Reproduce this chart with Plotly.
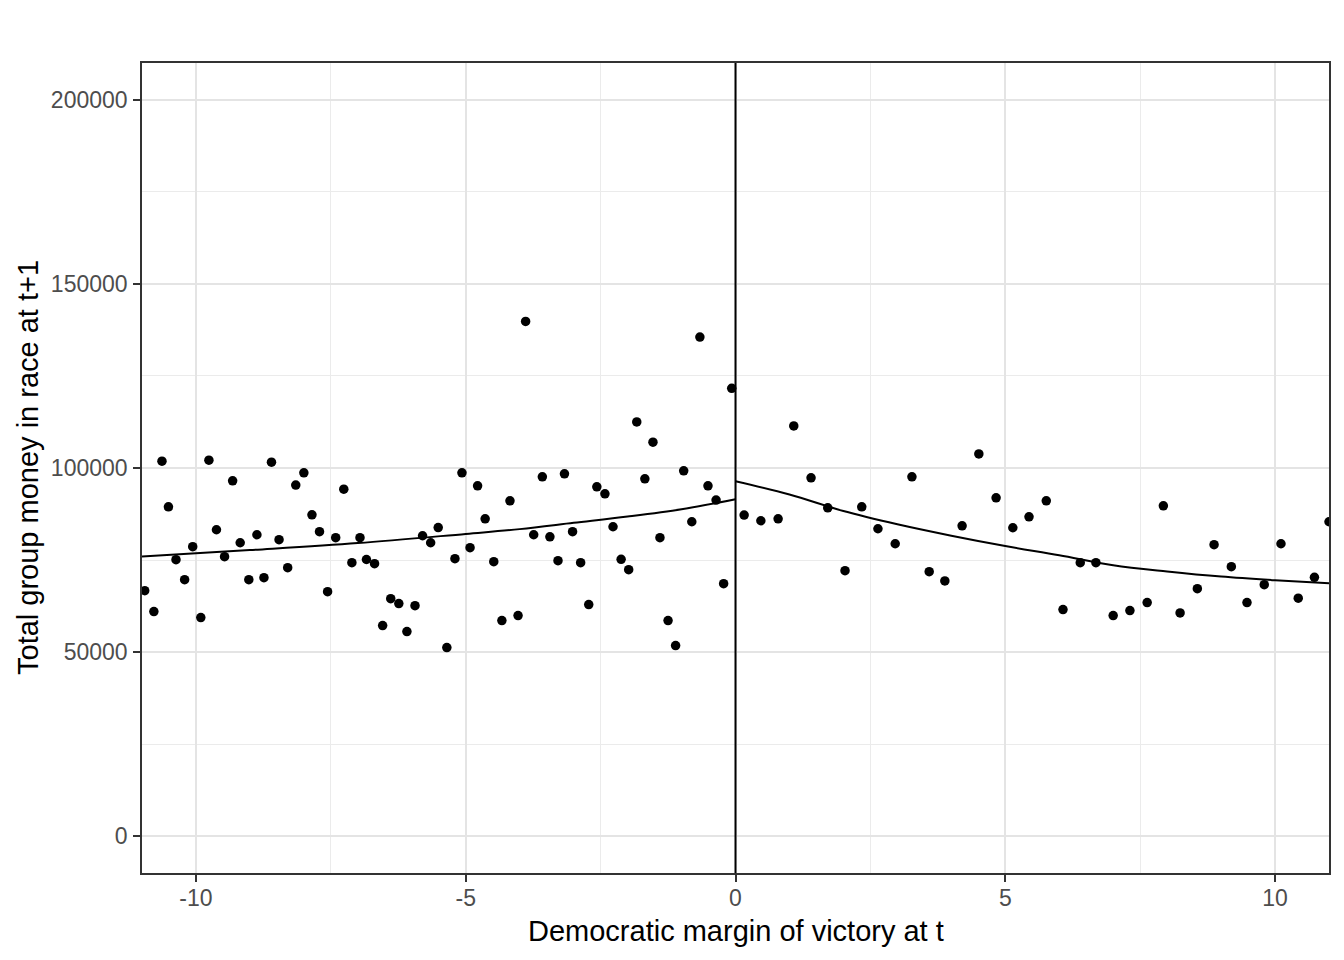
import plotly.graph_objects as go

# Scatter data: left of cutoff
left_x = [-10.95, -10.78, -10.63, -10.51, -10.37, -10.21, -10.06, -9.91, -9.76, -9.62,
          -9.47, -9.32, -9.18, -9.02, -8.87, -8.74, -8.60, -8.46, -8.30, -8.15,
          -8.00, -7.85, -7.71, -7.56, -7.41, -7.26, -7.11, -6.96, -6.84, -6.69,
          -6.54, -6.39, -6.24, -6.09, -5.94, -5.80, -5.65, -5.51, -5.35, -5.20,
          -5.07, -4.92, -4.78, -4.64, -4.48, -4.33, -4.18, -4.03, -3.89, -3.74,
          -3.58, -3.44, -3.29, -3.17, -3.02, -2.87, -2.72, -2.57, -2.42, -2.27,
          -2.12, -1.98, -1.83, -1.68, -1.53, -1.40, -1.25, -1.11, -0.96, -0.81,
          -0.66, -0.51, -0.36, -0.22, -0.07]
left_y = [66690, 61000, 101850, 89460, 75090, 69670, 78620, 59370, 102120, 83230,
          75910, 96510, 79700, 69670, 81870, 70210, 101580, 80520, 72930, 95350,
          98680, 87290, 82690, 66420, 81060, 94260, 74280, 81060, 75150, 74010,
          57200, 64500, 63170, 55580, 62620, 81600, 79700, 83820, 51240, 75370,
          98680, 78350, 95160, 86210, 74550, 58560, 91090, 59910, 139800, 81870,
          97600, 81300, 74820, 98410, 82690, 74280, 62900, 94890, 92990, 84040,
          75200, 72380, 112510, 97050, 107000, 81060, 58560, 51780, 99220, 85400,
          135550, 95160, 91280, 68590, 121640]

# Scatter data: right of cutoff
right_x = [0.16, 0.47, 0.79, 1.08, 1.40, 1.71, 2.03, 2.34, 2.64, 2.96,
           3.27, 3.59, 3.88, 4.20, 4.51, 4.83, 5.14, 5.44, 5.76, 6.07,
           6.39, 6.68, 7.00, 7.31, 7.63, 7.93, 8.24, 8.56, 8.87, 9.19,
           9.48, 9.80, 10.11, 10.43, 10.73, 11.00]
right_y = [87210, 85670, 86210, 111420, 97320, 89190, 72110, 89460, 83500, 79430,
           97600, 71840, 69320, 84310, 103830, 91900, 83770, 86750, 91090, 61540,
           74280, 74280, 59910, 61270, 63440, 89730, 60650, 67230, 79160, 73200,
           63440, 68320, 79430, 64630, 70320, 85400]

# Fitted curves
fit_left_x = [-11, -9, -7, -5, -4, -3, -2, -1, 0]
fit_left_y = [75960, 77700, 79600, 82100, 83400, 85100, 86800, 88800, 91500]
fit_right_x = [0, 1, 2, 3, 4, 5, 6, 7, 8, 9, 10, 11]
fit_right_y = [96400, 92800, 88300, 84700, 81600, 78800, 76300, 73600, 71900, 70500, 69500, 68700]

x_ticks = [-10, -5, 0, 5, 10]
y_ticks = [0, 50000, 100000, 150000, 200000]

FONT = "Liberation Sans, Arial, sans-serif"

fig = go.Figure()
fig.add_trace(go.Scatter(x=left_x + right_x, y=left_y + right_y, mode="markers",
                         marker=dict(color="black", size=9.5), showlegend=False,
                         cliponaxis=True))
fig.add_trace(go.Scatter(x=fit_left_x, y=fit_left_y, mode="lines",
                         line=dict(color="black", width=2, shape="spline"), showlegend=False))
fig.add_trace(go.Scatter(x=fit_right_x, y=fit_right_y, mode="lines",
                         line=dict(color="black", width=2, shape="spline"), showlegend=False))

fig.add_shape(type="line", xref="x", yref="paper", x0=0, x1=0, y0=0, y1=1,
              line=dict(color="black", width=2), layer="above")

axis_common = dict(
    showline=True, linecolor="#333333", linewidth=1.6, mirror=True,
    ticks="outside", ticklen=7, tickwidth=1.6, tickcolor="#333333",
    tickfont=dict(family=FONT, size=23, color="#4d4d4d"),
    showgrid=True, gridcolor="#e4e4e4", gridwidth=1.5,
    zeroline=False,
)

# The page body has an 8px margin, so the figure is sized/offset to compensate.
fig.update_layout(
    width=1336, height=952,
    margin=dict(l=134, r=15, t=55, b=87),
    plot_bgcolor="white", paper_bgcolor="white",
    xaxis=dict(range=[-11, 11], tickvals=x_ticks, ticktext=[str(v) for v in x_ticks],
               ticklabelstandoff=-3,
               minor=dict(dtick=2.5, tick0=0, showgrid=True, gridcolor="#ebebeb", gridwidth=1.1, ticks=""),
               **axis_common),
    yaxis=dict(range=[-10000, 210000], tickvals=y_ticks, ticktext=[str(v) for v in y_ticks],
               ticklabelstandoff=1,
               minor=dict(dtick=25000, tick0=0, showgrid=True, gridcolor="#ebebeb", gridwidth=1.1, ticks=""),
               **axis_common),
    annotations=[
        dict(text="Democratic margin of victory at t", xref="paper", yref="paper",
             x=0.5, y=0, yshift=-58, xanchor="center", yanchor="middle", showarrow=False,
             font=dict(family=FONT, size=29, color="black")),
        dict(text="Total group money in race at t+1", xref="paper", yref="paper",
             x=0, y=0.5, xshift=-114, xanchor="center", yanchor="middle", showarrow=False,
             textangle=-90, font=dict(family=FONT, size=29, color="black")),
    ],
)

fig.write_html("out.html")
